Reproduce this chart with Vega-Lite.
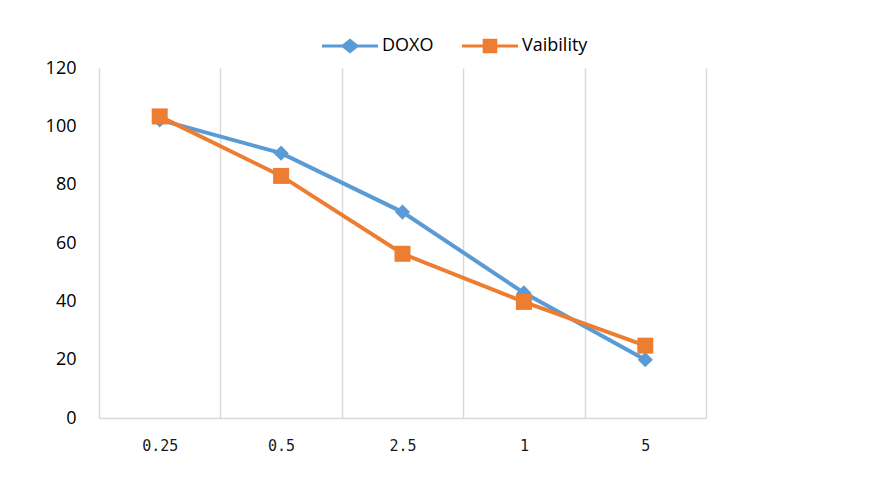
{
  "$schema": "https://vega.github.io/schema/vega-lite/v6.json",
  "width": 607,
  "height": 350,
  "autosize": "none",
  "padding": {"left": 99, "top": 68, "right": 187, "bottom": 66},
  "background": "white",
  "config": {
    "view": {"stroke": null},
    "font": "Open Sans"
  },
  "data": {
    "values": [
      {"dose": "0.25", "series": "DOXO", "value": 102.2},
      {"dose": "0.5", "series": "DOXO", "value": 90.8},
      {"dose": "2.5", "series": "DOXO", "value": 70.6},
      {"dose": "1", "series": "DOXO", "value": 42.9},
      {"dose": "5", "series": "DOXO", "value": 20.0},
      {"dose": "0.25", "series": "Vaibility", "value": 103.4},
      {"dose": "0.5", "series": "Vaibility", "value": 83.0},
      {"dose": "2.5", "series": "Vaibility", "value": 56.3},
      {"dose": "1", "series": "Vaibility", "value": 39.8},
      {"dose": "5", "series": "Vaibility", "value": 24.8}
    ]
  },
  "encoding": {
    "x": {
      "field": "dose",
      "type": "ordinal",
      "sort": ["0.25", "0.5", "2.5", "1", "5"],
      "scale": {"type": "band", "paddingInner": 0, "paddingOuter": 0},
      "axis": {
        "title": null,
        "labelAngle": 0,
        "tickBand": "extent",
        "ticks": false,
        "grid": true,
        "gridColor": "#d9d9d9",
        "gridWidth": 1.5,
        "domainColor": "#d9d9d9",
        "domainWidth": 1.5,
        "labelFont": "DejaVu Sans Mono",
        "labelFontSize": 15,
        "labelColor": "#1a1a1a",
        "labelPadding": 20
      }
    },
    "y": {
      "field": "value",
      "type": "quantitative",
      "scale": {"domain": [0, 120]},
      "axis": {
        "title": null,
        "values": [0, 20, 40, 60, 80, 100, 120],
        "grid": false,
        "domain": false,
        "ticks": false,
        "labelFontSize": 18,
        "labelColor": "#000000",
        "labelPadding": 23
      }
    },
    "color": {
      "field": "series",
      "type": "nominal",
      "scale": {"domain": ["DOXO", "Vaibility"], "range": ["#5b9bd5", "#ed7d31"]},
      "legend": {
        "title": null,
        "orient": "none",
        "direction": "horizontal",
        "legendX": 223,
        "legendY": -50,
        "symbolSize": 3136,
        "labelFontSize": 18,
        "labelColor": "#000000",
        "labelOffset": 4,
        "columnPadding": 28,
        "symbolStrokeWidth": 0,
        "symbolOpacity": 1,
        "encode": {
          "symbols": {
            "update": {
              "shape": {"signal": "datum.value === 'DOXO' ? 'M-1,-0.055H-0.27L0,-0.27L0.27,-0.055H1V0.055H0.27L0,0.27L-0.27,0.055H-1Z' : 'M-1,-0.055H-0.26V-0.26H0.26V-0.055H1V0.055H0.26V0.26H-0.26V0.055H-1Z'"},
              "size": {"value": 3136},
              "fillOpacity": {"value": 1},
              "strokeWidth": {"value": 0}
            }
          }
        }
      }
    }
  },
  "layer": [
    {
      "mark": {"type": "line", "strokeWidth": 4}
    },
    {
      "transform": [{"filter": "datum.series === 'DOXO'"}],
      "mark": {"type": "point", "filled": true, "opacity": 1, "shape": "diamond", "size": 230}
    },
    {
      "transform": [{"filter": "datum.series === 'Vaibility'"}],
      "mark": {"type": "point", "filled": true, "opacity": 1, "shape": "square", "size": 256}
    }
  ]
}
